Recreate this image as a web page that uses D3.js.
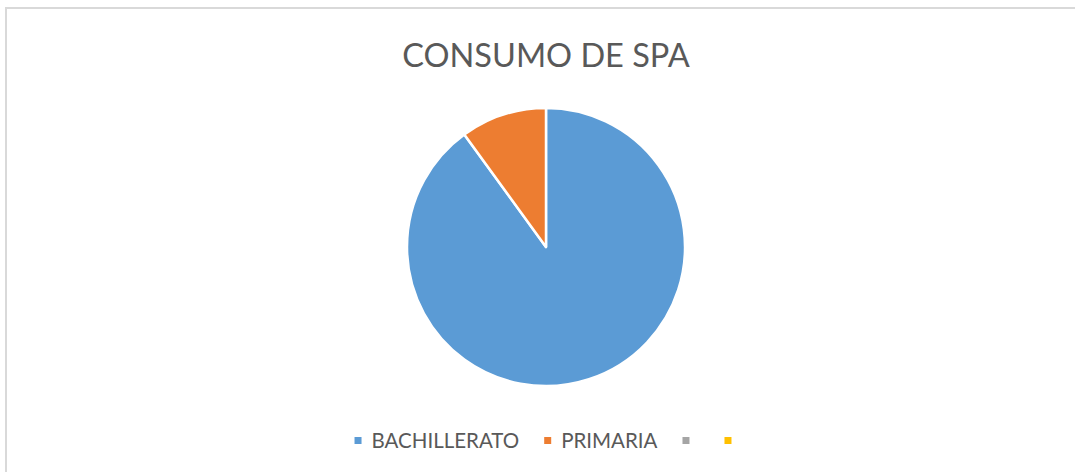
<!DOCTYPE html>
<html>
<head>
<meta charset="utf-8">
<script src="https://cdn.jsdelivr.net/npm/d3@7"></script>
<style>
  html, body { margin: 0; padding: 0; background: #fff; }
  svg { display: block; }
</style>
</head>
<body>
<svg id="chart" width="1075" height="472"></svg>
<script>
// Chart data
const categories = ["BACHILLERATO", "PRIMARIA", "", ""];
const values = [9, 1, 0, 0];
const colors = ["#5B9BD5", "#ED7D31", "#A5A5A5", "#FFC000"];
const title = "CONSUMO DE SPA";

const W = 1075, H = 472;
const cx = 546, cy = 247, radius = 139;
const fontFamily = "Lato, 'Open Sans', sans-serif";
const textColor = "#595959";

const svg = d3.select("#chart");

// Chart area frame
svg.append("rect")
  .attr("x", 6).attr("y", 8)
  .attr("width", W + 10).attr("height", H + 10)
  .attr("fill", "#fff")
  .attr("stroke", "#d9d9d9")
  .attr("stroke-width", 2);

// Title
svg.append("text")
  .attr("x", cx).attr("y", 67)
  .attr("text-anchor", "middle")
  .attr("font-family", fontFamily)
  .attr("font-size", 32.5)
  .attr("fill", textColor)
  .text(title);

// Pie, clockwise from 12 o'clock in series order
const data = categories.map((c, i) => ({ category: c, value: values[i], color: colors[i] }));
const pie = d3.pie().value(d => d.value).sort(null);
const arc = d3.arc().innerRadius(0).outerRadius(radius);

svg.append("g")
  .attr("transform", `translate(${cx},${cy})`)
  .selectAll("path")
  .data(pie(data).filter(d => d.data.value > 0))
  .join("path")
  .attr("d", arc)
  .attr("fill", d => d.data.color)
  .attr("stroke", "#fff")
  .attr("stroke-width", 2.5)
  .attr("stroke-linejoin", "round");

// Legend, centred under the pie
const legend = svg.append("g");
const sw = 7, gapText = 10, gapItem = 25, legendY = 448;
const items = legend.selectAll("g")
  .data(data)
  .join("g");
items.append("rect")
  .attr("width", sw).attr("height", sw)
  .attr("y", legendY - 11)
  .attr("fill", d => d.color);
items.append("text")
  .attr("x", sw + gapText)
  .attr("y", legendY)
  .attr("font-family", fontFamily)
  .attr("font-size", 20.5)
  .attr("fill", textColor)
  .text(d => d.category);

let x = 0;
const xs = [];
items.each(function () {
  xs.push(x);
  const t = d3.select(this).select("text").node();
  const tw = t.textContent ? t.getComputedTextLength() : 0;
  x += sw + gapText + tw + gapItem;
});
const total = x - gapItem;
const x0 = cx + 2 - total / 2;
items.attr("transform", (d, i) => `translate(${x0 + xs[i]},0)`);
</script>
</body>
</html>
